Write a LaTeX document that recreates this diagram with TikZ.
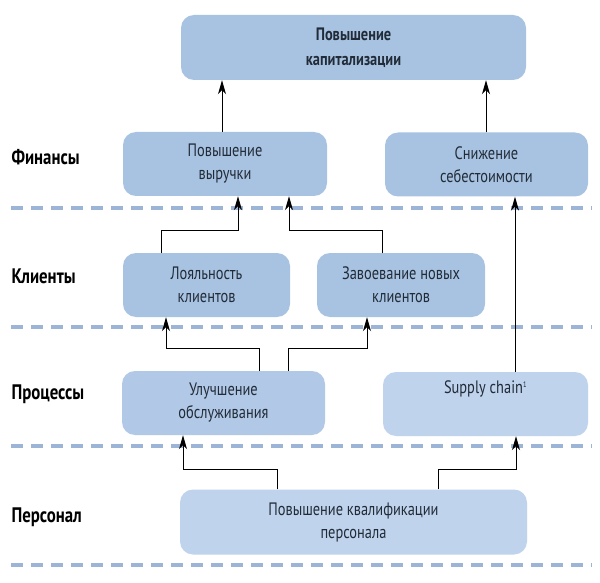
\documentclass[tikz,border=0pt]{standalone}
\usepackage{fontspec}
\setmainfont{PT Sans}[FakeStretch=0.8]
\usetikzlibrary{arrows.meta}
\definecolor{boxA}{HTML}{A8C3E1}
\definecolor{boxB}{HTML}{B1C9E6}
\definecolor{boxC}{HTML}{BFD3EC}
\definecolor{dashc}{HTML}{9CB4D6}
\definecolor{txt}{HTML}{222C38}
\tikzset{
  card/.style={draw=none, rounded corners=13pt, align=center, text=txt,
    font=\fontsize{18}{23}\selectfont, inner sep=0pt},
  sep/.style={dashc, line width=3.2pt, dash pattern=on 12pt off 8pt},
  lane/.style={anchor=west, font=\fontsize{21}{24}\selectfont\bfseries, text=black},
  arr/.style={black, line width=1pt, -{Stealth[length=14pt,width=8pt,inset=4pt]}},
}
\begin{document}
\begin{tikzpicture}[x=1pt,y=-1pt]
\useasboundingbox (0,0) rectangle (600,583);
\fill[white] (0,0) rectangle (600,583);
% separators
\foreach \yy in {208,327,446,565} \draw[sep] (11,\yy) -- (592,\yy);
% lane labels
\node[lane] (lfin) at (8,157) {Финансы};
\node[lane] (lcli) at (8,276) {Клиенты};
\node[lane] (lpro) at (8,394) {Процессы};
\node[lane] (lper) at (8,517) {Персонал};
% boxes
\node[card, fill=boxA, minimum width=345pt, minimum height=65pt, font=\fontsize{18}{25}\selectfont\bfseries] (top) at (353.5,47.5) {Повышение\\капитализации};
\node[card, fill=boxA, minimum width=204pt, minimum height=64pt] (rev) at (225,164) {Повышение\\выручки};
\node[card, fill=boxA, minimum width=203pt, minimum height=64pt] (cost) at (486.5,164.5) {Снижение\\себестоимости};
\node[card, fill=boxA, minimum width=167pt, minimum height=64pt] (loyal) at (206.5,285) {Лояльность\\клиентов};
\node[card, fill=boxA, minimum width=168pt, minimum height=64pt] (newc) at (401,285) {Завоевание новых\\клиентов};
\node[card, fill=boxB, minimum width=203pt, minimum height=64pt] (serv) at (223.5,403) {Улучшение\\обслуживания};
\node[card, fill=boxC, minimum width=205pt, minimum height=64pt] (supply) at (485.5,404) {};
\node[text=txt, font=\fontsize{18}{23}\selectfont] (supplyt) at (485.5,389) {Supply chain\textsuperscript{\fontsize{8}{8}\selectfont 1}};
\node[card, fill=boxC, minimum width=347pt, minimum height=65pt] (staff) at (353.5,522) {Повышение квалификации\\персонала};
% connectors
\draw[arr] (rev.north -| 222,0) -- (top.south -| 222,0);
\draw[arr] (cost.north -| 486,0) -- (top.south -| 486,0);
\draw[arr] (loyal.north -| 161,0) -- (161,230) -- (238,230) -- (rev.south -| 238,0);
\draw[arr] (newc.north -| 382,0) -- (382,230) -- (289,230) -- (rev.south -| 289,0);
\draw[arr] (serv.north -| 259,0) -- (259,348) -- (166,348) -- (loyal.south -| 166,0);
\draw[arr] (serv.north -| 288,0) -- (288,348) -- (367,348) -- (newc.south -| 367,0);
\draw[arr] (supply.north -| 515,0) -- (cost.south -| 515,0);
\draw[arr] (staff.north -| 277,0) -- (277,469) -- (183,469) -- (serv.south -| 183,0);
\draw[arr] (staff.north -| 438,0) -- (438,469) -- (516,469) -- (supply.south -| 516,0);
\end{tikzpicture}
\end{document}
